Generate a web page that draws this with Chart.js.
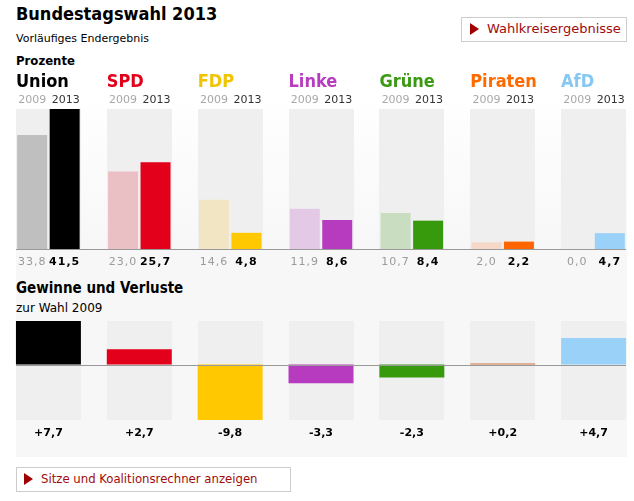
<!DOCTYPE html>
<html>
<head>
<meta charset="utf-8">
<script src="https://cdn.jsdelivr.net/npm/chart.js@4/dist/chart.umd.min.js"></script>
<style>
  html, body { margin: 0; padding: 0; width: 634px; height: 501px; overflow: hidden; background: #fff; }
  body { position: relative; font-family: "DejaVu Sans", Verdana, sans-serif; color: #000; }
  .abs { position: absolute; white-space: nowrap; }
  #panel { left: 16px; top: 96px; width: 611px; height: 361px;
    background: linear-gradient(#ffffff 0px, #f7f7f7 150px, #f7f7f7 100%); }
  #title { left: 16px; top: 3px; font-size: 18px; line-height: 21px; font-weight: bold; font-stretch: condensed; }
  #sub { left: 16px; top: 32px; font-size: 11px; line-height: 14px; }
  #pct { left: 16px; top: 53px; font-size: 13px; line-height: 16px; font-weight: bold; font-stretch: condensed; }
  #gv { left: 16px; top: 279px; font-size: 15px; line-height: 18px; font-weight: bold; font-stretch: condensed; }
  #zw { left: 16px; top: 301px; font-size: 12px; line-height: 15px; }
  .btn { border: 1px solid #cccccc; background: #fff; color: #a10b0b; font-size: 13px; box-sizing: border-box; }
  .btn .tri { position: absolute; width: 0; height: 0; border-top: 6px solid transparent;
    border-bottom: 6px solid transparent; border-left: 9px solid #a00000; }
  #btn1 { left: 461px; top: 17px; width: 166px; height: 25px; }
  #btn1 .tri { left: 8px; top: 5px; }
  #btn1 span { position: absolute; left: 25px; top: 3px; line-height: 16px; }
  #btn2 { left: 16px; top: 467px; width: 275px; height: 25px; }
  #btn2 .tri { left: 7px; top: 5px; }
  #btn2 span { position: absolute; left: 24px; top: 3px; line-height: 16px; font-stretch: condensed; }
  #topWrap { left: 3px; top: 60px; width: 636px; height: 215px; }
  #botWrap { left: 3px; top: 315px; width: 636px; height: 140px; }
</style>
</head>
<body>
<div id="panel" class="abs"></div>
<div id="title" class="abs">Bundestagswahl 2013</div>
<div id="sub" class="abs">Vorläufiges Endergebnis</div>
<div id="pct" class="abs">Prozente</div>
<div id="gv" class="abs">Gewinne und Verluste</div>
<div id="zw" class="abs">zur Wahl 2009</div>
<div id="btn1" class="abs btn"><div class="tri"></div><span>Wahlkreisergebnisse</span></div>
<div id="btn2" class="abs btn"><div class="tri"></div><span>Sitze und Koalitionsrechner anzeigen</span></div>
<div id="topWrap" class="abs"><canvas id="topChart"></canvas></div>
<div id="botWrap" class="abs"><canvas id="botChart"></canvas></div>

<script>
const parties = ["Union", "SPD", "FDP", "Linke", "Grüne", "Piraten", "AfD"];
const years = ["2009", "2013"];
const votes2009 = [33.8, 23.0, 14.6, 11.9, 10.7, 2.0, 0.0];
const votes2013 = [41.5, 25.7, 4.8, 8.6, 8.4, 2.2, 4.7];
const change = [7.7, 2.7, -9.8, -3.3, -2.3, 0.2, 4.7];

const nameColors = ["#000000", "#e2001a", "#f0c400", "#b83cbf", "#3a9a12", "#ff6a00", "#86c8f2"];
const colors2013 = ["#000000", "#e2001a", "#ffc800", "#b73bbf", "#37990c", "#ff6600", "#99d1f8"];
const colors2009 = ["#bfbfbf", "#ebc0c5", "#f2e5c4", "#e3c9e6", "#c9ddc1", "#f6d8c8", "#dcecf8"];
const changeColors = ["#000000", "#e2001a", "#ffc800", "#b73bbf", "#37990c", "#d2763c", "#99d1f8"];

const catPct = 0.715;
const trackColor = "#efefef";
const lineColor = "#999999";
const condensed = '"DejaVu Sans Condensed", "DejaVu Sans", sans-serif';
const wide = '"DejaVu Sans", sans-serif';

function fmt(v) {
  return v.toFixed(1).replace(".", ",");
}
function fmtSigned(v) {
  return (v >= 0 ? "+" : "") + fmt(v);
}

function trackBox(chart, i) {
  const x = chart.scales.x;
  const w = (x.getPixelForValue(1) - x.getPixelForValue(0)) * catPct;
  const c = x.getPixelForValue(i);
  return { left: c - w / 2, width: w, center: c };
}

// grey column behind each party
const tracks = {
  id: "tracks",
  beforeDatasetsDraw(chart) {
    const ctx = chart.ctx;
    const area = chart.chartArea;
    ctx.save();
    ctx.fillStyle = trackColor;
    parties.forEach((p, i) => {
      const b = trackBox(chart, i);
      ctx.fillRect(Math.round(b.left), area.top, Math.round(b.width), area.bottom - area.top);
    });
    ctx.restore();
  }
};

const topLabels = {
  id: "topLabels",
  afterDatasetsDraw(chart) {
    const ctx = chart.ctx;
    const area = chart.chartArea;
    const y0 = chart.scales.y.getPixelForValue(0);
    const first = trackBox(chart, 0);
    const last = trackBox(chart, parties.length - 1);
    ctx.save();
    ctx.strokeStyle = lineColor;
    ctx.lineWidth = 1;
    ctx.beginPath();
    ctx.moveTo(first.left, Math.round(y0) + 0.5);
    ctx.lineTo(last.left + last.width, Math.round(y0) + 0.5);
    ctx.stroke();

    const m09 = chart.getDatasetMeta(0).data;
    const m13 = chart.getDatasetMeta(1).data;
    parties.forEach((p, i) => {
      const b = trackBox(chart, i);
      ctx.textBaseline = "middle";
      ctx.textAlign = "left";
      ctx.font = "bold 18px " + condensed;
      ctx.fillStyle = nameColors[i];
      ctx.fillText(p, b.left, area.top - 27);

      ctx.font = "11px " + wide;
      ctx.fillStyle = "#a8a8a8";
      ctx.fillText(years[0], m09[i].x - m09[i].width / 2 + 1, area.top - 9);
      ctx.fillStyle = "#333333";
      ctx.fillText(years[1], m13[i].x - m13[i].width / 2 + 2, area.top - 9);

      ctx.textAlign = "center";
      ctx.letterSpacing = "1px";
      ctx.font = "11px " + wide;
      ctx.fillStyle = "#9a9a9a";
      ctx.fillText(fmt(votes2009[i]), m09[i].x, y0 + 13);
      ctx.font = "bold 11px " + wide;
      ctx.fillStyle = "#000000";
      ctx.fillText(fmt(votes2013[i]), m13[i].x, y0 + 13);
      ctx.letterSpacing = "0px";
    });
    ctx.restore();
  }
};

const botLabels = {
  id: "botLabels",
  afterDatasetsDraw(chart) {
    const ctx = chart.ctx;
    const area = chart.chartArea;
    const y0 = chart.scales.y.getPixelForValue(0);
    const first = trackBox(chart, 0);
    const last = trackBox(chart, parties.length - 1);
    ctx.save();
    ctx.strokeStyle = lineColor;
    ctx.lineWidth = 1;
    ctx.beginPath();
    ctx.moveTo(first.left, Math.round(y0) + 0.5);
    ctx.lineTo(last.left + last.width, Math.round(y0) + 0.5);
    ctx.stroke();
    ctx.textAlign = "center";
    ctx.textBaseline = "middle";
    ctx.font = "bold 11px " + wide;
    ctx.fillStyle = "#000000";
    change.forEach((v, i) => {
      const b = trackBox(chart, i);
      ctx.fillText(fmtSigned(v), b.center, area.bottom + 13);
    });
    ctx.restore();
  }
};

const hiddenScales = (min, max) => ({
  x: { display: false, grid: { display: false } },
  y: { display: false, min: min, max: max, grid: { display: false } }
});

new Chart(document.getElementById("topChart"), {
  type: "bar",
  data: {
    labels: parties,
    datasets: [
      { label: years[0], data: votes2009, backgroundColor: colors2009,
        categoryPercentage: catPct, barPercentage: 0.923 },
      { label: years[1], data: votes2013, backgroundColor: colors2013,
        categoryPercentage: catPct, barPercentage: 0.923 }
    ]
  },
  options: {
    responsive: true,
    maintainAspectRatio: false,
    animation: false,
    layout: { padding: { top: 49, bottom: 26, left: 0, right: 0 } },
    plugins: { legend: { display: false }, tooltip: { enabled: false } },
    scales: hiddenScales(0, Math.max(...votes2013, ...votes2009))
  },
  plugins: [tracks, topLabels]
});

new Chart(document.getElementById("botChart"), {
  type: "bar",
  data: {
    labels: parties,
    datasets: [
      { label: "Gewinne und Verluste", data: change, backgroundColor: changeColors,
        categoryPercentage: catPct, barPercentage: 1 }
    ]
  },
  options: {
    responsive: true,
    maintainAspectRatio: false,
    animation: false,
    layout: { padding: { top: 6, bottom: 35, left: 0, right: 0 } },
    plugins: { legend: { display: false }, tooltip: { enabled: false } },
    scales: hiddenScales(Math.min(...change), Math.max(...change))
  },
  plugins: [tracks, botLabels]
});
</script>
</body>
</html>
